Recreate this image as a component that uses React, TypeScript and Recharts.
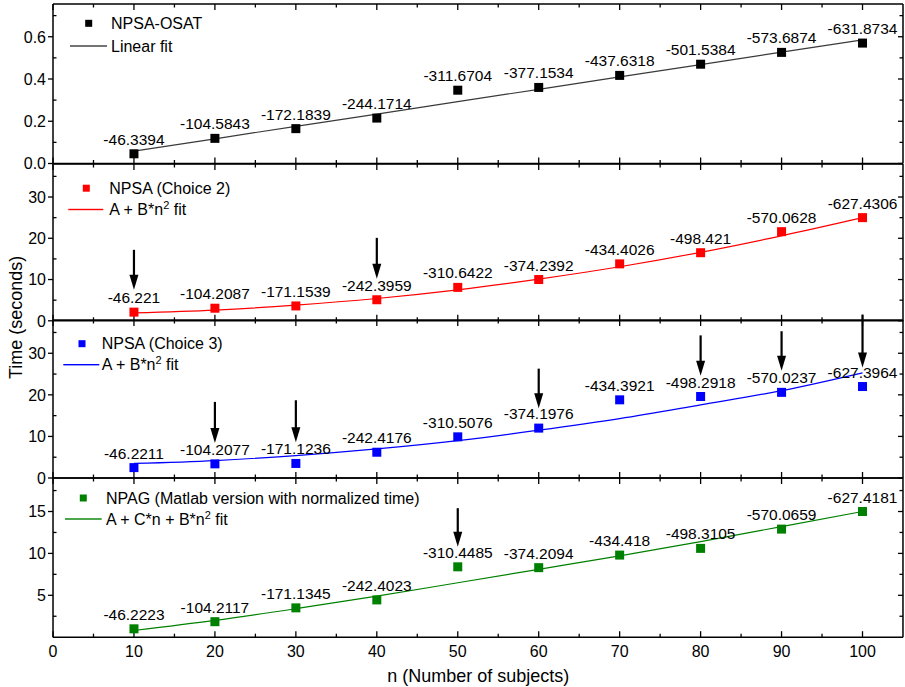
import React from 'react';
import { ComposedChart, Scatter, Line, XAxis, YAxis, ReferenceLine, Legend } from 'recharts';

const FONT = '"Liberation Sans", Arial, Helvetica, sans-serif';

const nValues = [10, 20, 30, 40, 50, 60, 70, 80, 90, 100];

// Panel 1: NPSA-OSAT
const osatTime = [0.046, 0.119, 0.165, 0.215, 0.347, 0.36, 0.417, 0.47, 0.526, 0.57];
const osatFit = [0.059, 0.117, 0.176, 0.234, 0.293, 0.351, 0.41, 0.468, 0.527, 0.585];
const osatLabels = ['-46.3394', '-104.5843', '-172.1839', '-244.1714', '-311.6704', '-377.1534', '-437.6318', '-501.5384', '-573.6874', '-631.8734'];

// Panel 2: NPSA (Choice 2)
const choice2Time = [2.1, 3.05, 3.6, 5.1, 8.1, 10.0, 13.8, 16.5, 21.6, 25.0];
const choice2Fit = [1.9, 2.6, 3.8, 5.4, 7.5, 10.1, 13.1, 16.6, 20.6, 25.0];
const choice2Labels = ['-46.221', '-104.2087', '-171.1539', '-242.3959', '-310.6422', '-374.2392', '-434.4026', '-498.421', '-570.0628', '-627.4306'];
const choice2ArrowN = [10, 40];
const choice2ArrowTail = [17.2, 20.1];
const choice2ArrowTip = [7.5, 10.2];

// Panel 3: NPSA (Choice 3)
const choice3Time = [2.5, 3.4, 3.5, 6.2, 9.9, 12.0, 18.8, 19.6, 20.6, 22.0];
const choice3Fit = [3.5, 4.2, 5.4, 7.0, 9.0, 11.5, 14.3, 17.6, 21.0, 25.3];
const choice3Labels = ['-46.2211', '-104.2077', '-171.1236', '-242.4176', '-310.5076', '-374.1976', '-434.3921', '-498.2918', '-570.0237', '-627.3964'];
const choice3ArrowN = [20, 30, 60, 80, 90, 100];
const choice3ArrowTail = [18.3, 18.7, 26.3, 34.3, 35.3, 39.3];
const choice3ArrowTip = [8.4, 8.6, 16.8, 24.6, 25.8, 26.6];

// Panel 4: NPAG
const npagTime = [1.0, 1.85, 3.5, 4.45, 8.4, 8.3, 9.8, 10.6, 12.9, 15.0];
const npagFit = [0.8, 2.0, 3.4, 4.9, 6.5, 8.1, 9.7, 11.4, 13.2, 15.0];
const npagLabels = ['-46.2223', '-104.2117', '-171.1345', '-242.4023', '-310.4485', '-374.2094', '-434.418', '-498.3105', '-570.0659', '-627.4181'];
const npagArrowN = [50];
const npagArrowTail = [15.4];
const npagArrowTip = [10.8];

const xTicks = [0, 5, 10, 15, 20, 25, 30, 35, 40, 45, 50, 55, 60, 65, 70, 75, 80, 85, 90, 95, 100];
const p1Ticks = [0, 0.1, 0.2, 0.3, 0.4, 0.5, 0.6, 0.7];
const p23Ticks = [0, 5, 10, 15, 20, 25, 30, 35];
const p4Ticks = [2.5, 5, 7.5, 10, 12.5, 15, 17.5];

const buildData = (times: number[], fits: number[], labels: string[]) =>
  nValues.map((n, i) => ({ n, t: times[i], fit: fits[i], label: labels[i] }));

const buildArrows = (ns: number[], tails: number[], tips: number[]) =>
  ns.map((n, i) => ({ n, tail: tails[i], tip: tips[i] }));

const xMajor = (v: number) => v % 10 === 0;
const p1Major = (v: number) => Math.round(v * 10) % 2 === 0;
const p23Major = (v: number) => v % 10 === 0;
const p4Major = (v: number) => v % 5 === 0;

const ok = (...vals: any[]) => vals.every((v) => typeof v === 'number' && !Number.isNaN(v));

// Tick label renderers (labels only)
const makeLeftLabel = (isMajor: (v: number) => boolean, fmt: (v: number) => string) => (props: any) => {
  const { x, y, payload } = props;
  if (!isMajor(payload.value)) return <g />;
  return (
    <text x={x - 7} y={y} dy="0.36em" textAnchor="end" fontSize={16} fontFamily={FONT} fill="#000">
      {fmt(payload.value)}
    </text>
  );
};

const makeBottomLabel = (show: boolean) => (props: any) => {
  const { x, y, payload } = props;
  if (!show || !xMajor(payload.value)) return <g />;
  return (
    <text x={x} y={y + 14.5} dy="0.36em" textAnchor="middle" fontSize={16} fontFamily={FONT} fill="#000">
      {String(payload.value)}
    </text>
  );
};

// Frame and tick marks drawn through reference lines (library scales)
const FrameShape = (props: any) => {
  const { x1, y1, x2, y2 } = props;
  if (!ok(x1, y1, x2, y2)) return <g />;
  return <line x1={x1} y1={y1} x2={x2} y2={y2} stroke="#000" strokeWidth={1.5} />;
};

const makeXTickShape = (major: boolean) => (props: any) => {
  const { x1, y1, y2 } = props;
  if (!ok(x1, y1, y2)) return <g />;
  const top = Math.min(y1, y2);
  const bottom = Math.max(y1, y2);
  const len = major ? 6 : 3.5;
  return (
    <g stroke="#000" strokeWidth={1.3}>
      <line x1={x1} x2={x1} y1={top} y2={top + len} />
      <line x1={x1} x2={x1} y1={bottom - len} y2={bottom} />
    </g>
  );
};

const makeYTickShape = (major: boolean) => (props: any) => {
  const { x1, x2, y1 } = props;
  if (!ok(x1, x2, y1)) return <g />;
  const left = Math.min(x1, x2);
  const right = Math.max(x1, x2);
  const len = major ? 5 : 3.5;
  return (
    <g stroke="#000" strokeWidth={1.3}>
      {major ? <line x1={left - 5} x2={left} y1={y1} y2={y1} /> : <line x1={left} x2={left + 3.5} y1={y1} y2={y1} />}
      <line x1={right - len} x2={right} y1={y1} y2={y1} />
    </g>
  );
};

const makeShape = (color: string) => (props: any) => {
  const { cx, cy, payload } = props;
  if (!ok(cx, cy)) return <g />;
  return (
    <g>
      <rect x={cx - 4.5} y={cy - 4.5} width={9} height={9} fill={color} />
      <text x={cx} y={cy - 9} textAnchor="middle" fontSize={15.5} fontFamily={FONT} fill="#000">
        {payload.label}
      </text>
    </g>
  );
};

const ArrowShape = (props: any) => {
  const { x1, y1, x2, y2 } = props;
  if (!ok(x1, y1, x2, y2)) return <g />;
  const x = x1;
  const top = Math.min(y1, y2);
  const bottom = Math.max(y1, y2);
  return (
    <g>
      <line x1={x} x2={x} y1={top} y2={bottom - 12} stroke="#000" strokeWidth={2.2} />
      <polygon points={`${x - 4.5},${bottom - 15} ${x + 4.5},${bottom - 15} ${x},${bottom}`} fill="#000" />
    </g>
  );
};

const FitText = ({ x, y, kind }: { x: number; y: number; kind: string }) => {
  if (kind === 'linear')
    return (
      <text x={x} y={y} dy="0.36em" fontSize={16} fontFamily={FONT} fill="#000">
        Linear fit
      </text>
    );
  const prefix = kind === 'quad3' ? 'A + C*n + B*n' : 'A + B*n';
  return (
    <text x={x} y={y} dy="0.36em" fontSize={16} fontFamily={FONT} fill="#000">
      {prefix}
      <tspan dy={-6} fontSize={11}>2</tspan>
      <tspan dy={6}>{' fit'}</tspan>
    </text>
  );
};

type LegendGeom = {
  markerX: number;
  row1Y: number;
  lineX1: number;
  lineX2: number;
  row2Y: number;
  textX: number;
};

const LegendBox = ({ g, color, lineColor, name, kind }: { g: LegendGeom; color: string; lineColor: string; name: string; kind: string }) => (
  <svg width={500} height={70} style={{ display: 'block', overflow: 'visible' }}>
    <rect x={g.markerX - 3.5} y={g.row1Y - 3.5} width={7} height={7} fill={color} />
    <text x={g.textX} y={g.row1Y} dy="0.36em" fontSize={16} fontFamily={FONT} fill="#000">
      {name}
    </text>
    <rect x={g.lineX1} y={g.row2Y - 0.7} width={g.lineX2 - g.lineX1} height={1.4} fill={lineColor} />
    <FitText x={g.textX} y={g.row2Y} kind={kind} />
  </svg>
);

type PanelProps = {
  top: number;
  height: number;
  margin: { top: number; right: number; bottom: number; left: number };
  data: any[];
  arrows: { n: number; tail: number; tip: number }[];
  domain: [number, number];
  yTicks: number[];
  yMajor: (v: number) => boolean;
  yFmt: (v: number) => string;
  color: string;
  lineColor: string;
  curve: 'linear' | 'monotone';
  legendGeom: LegendGeom;
  name: string;
  kind: string;
  bottomAxisHeight: number;
  showXLabels: boolean;
  xTitle?: boolean;
  yTitle?: { x: number; y: number };
};

const Panel = (p: PanelProps) => (
  <div style={{ position: 'absolute', left: 0, top: p.top }}>
    <ComposedChart width={905} height={p.height} margin={p.margin} data={p.data}>
      <XAxis
        type="number"
        dataKey="n"
        domain={[0, 105]}
        allowDataOverflow
        ticks={xTicks}
        interval={0}
        height={p.bottomAxisHeight}
        tickSize={0}
        tickMargin={0}
        axisLine={false}
        tickLine={false}
        tick={makeBottomLabel(p.showXLabels)}
        label={
          p.xTitle
            ? () => (
                <text x={478.2} y={p.height - p.bottomAxisHeight + 38} dy="0.36em" textAnchor="middle" fontSize={18} fontFamily={FONT} fill="#000">
                  n (Number of subjects)
                </text>
              )
            : undefined
        }
      />
      <YAxis
        type="number"
        domain={p.domain}
        allowDataOverflow
        ticks={p.yTicks}
        interval={0}
        width={53}
        tickSize={0}
        tickMargin={0}
        axisLine={false}
        tickLine={false}
        tick={makeLeftLabel(p.yMajor, p.yFmt)}
        label={
          p.yTitle
            ? () => (
                <text
                  x={p.yTitle!.x}
                  y={p.yTitle!.y}
                  dy="0.36em"
                  textAnchor="middle"
                  fontSize={18}
                  fontFamily={FONT}
                  fill="#000"
                  transform={`rotate(-90, ${p.yTitle!.x}, ${p.yTitle!.y})`}
                >
                  Time (seconds)
                </text>
              )
            : undefined
        }
      />
      {xTicks.map((v) => (
        <ReferenceLine key={`xt${v}`} x={v} ifOverflow="visible" shape={makeXTickShape(xMajor(v))} />
      ))}
      {p.yTicks.map((v) => (
        <ReferenceLine key={`yt${v}`} y={v} ifOverflow="visible" shape={makeYTickShape(p.yMajor(v))} />
      ))}
      <ReferenceLine x={0} ifOverflow="visible" shape={FrameShape} />
      <ReferenceLine x={105} ifOverflow="visible" shape={FrameShape} />
      <ReferenceLine y={p.domain[0]} ifOverflow="visible" shape={FrameShape} />
      <ReferenceLine y={p.domain[1]} ifOverflow="visible" shape={FrameShape} />
      <Line
        type={p.curve}
        dataKey="fit"
        stroke={p.lineColor}
        strokeWidth={1.2}
        dot={false}
        activeDot={false}
        isAnimationActive={false}
        legendType="none"
      />
      <Scatter dataKey="t" fill={p.color} shape={makeShape(p.color)} isAnimationActive={false} legendType="none" />
      {p.arrows.map((a, i) => (
        <ReferenceLine
          key={`ar${i}`}
          segment={[
            { x: a.n, y: a.tail },
            { x: a.n, y: a.tip },
          ]}
          ifOverflow="visible"
          shape={ArrowShape}
        />
      ))}
      <Legend
        layout="horizontal"
        verticalAlign="middle"
        align="center"
        wrapperStyle={{ left: 0, top: 0, width: 500, height: 70, pointerEvents: 'none' }}
        content={() => <LegendBox g={p.legendGeom} color={p.color} lineColor={p.lineColor} name={p.name} kind={p.kind} />}
      />
    </ComposedChart>
  </div>
);

const panel1Data = buildData(osatTime, osatFit, osatLabels);
const panel2Data = buildData(choice2Time, choice2Fit, choice2Labels);
const panel3Data = buildData(choice3Time, choice3Fit, choice3Labels);
const panel4Data = buildData(npagTime, npagFit, npagLabels);

export default function App() {
  return (
    <div style={{ position: 'absolute', left: 0, top: 0, width: 905, height: 687, background: '#fff', overflow: 'hidden' }}>
      <Panel
        top={0}
        height={173.5}
        margin={{ top: 4, right: 2, bottom: 10, left: 0 }}
        data={panel1Data}
        arrows={[]}
        domain={[0, 0.755]}
        yTicks={p1Ticks}
        yMajor={p1Major}
        yFmt={(v) => v.toFixed(1)}
        color="#000000"
        lineColor="#3a3a3a"
        curve="linear"
        legendGeom={{ markerX: 88.7, row1Y: 23.3, lineX1: 70, lineX2: 107, row2Y: 46, textX: 111 }}
        name="NPSA-OSAT"
        kind="linear"
        bottomAxisHeight={0}
        showXLabels={false}
      />
      <Panel
        top={153.5}
        height={226.8}
        margin={{ top: 10, right: 2, bottom: 60, left: 0 }}
        data={panel2Data}
        arrows={buildArrows(choice2ArrowN, choice2ArrowTail, choice2ArrowTip)}
        domain={[0, 38]}
        yTicks={p23Ticks}
        yMajor={p23Major}
        yFmt={(v) => String(v)}
        color="#ff0000"
        lineColor="#ff0000"
        curve="monotone"
        legendGeom={{ markerX: 86.3, row1Y: 34.2, lineX1: 68.3, lineX2: 103.3, row2Y: 55.5, textX: 109.3 }}
        name="NPSA (Choice 2)"
        kind="quad"
        bottomAxisHeight={0}
        showXLabels={false}
        yTitle={{ x: 16, y: 163.5 }}
      />
      <Panel
        top={310.3}
        height={178}
        margin={{ top: 10, right: 2, bottom: 10, left: 0 }}
        data={panel3Data}
        arrows={buildArrows(choice3ArrowN, choice3ArrowTail, choice3ArrowTip)}
        domain={[0, 38]}
        yTicks={p23Ticks}
        yMajor={p23Major}
        yFmt={(v) => String(v)}
        color="#0000ff"
        lineColor="#0000ff"
        curve="monotone"
        legendGeom={{ markerX: 82, row1Y: 33.7, lineX1: 63.3, lineX2: 99.3, row2Y: 54.7, textX: 101.7 }}
        name="NPSA (Choice 3)"
        kind="quad"
        bottomAxisHeight={0}
        showXLabels={false}
      />
      <Panel
        top={468.3}
        height={218.7}
        margin={{ top: 10, right: 2, bottom: 0, left: 0 }}
        data={panel4Data}
        arrows={buildArrows(npagArrowN, npagArrowTail, npagArrowTip)}
        domain={[0, 19]}
        yTicks={p4Ticks}
        yMajor={p4Major}
        yFmt={(v) => String(v)}
        color="#008000"
        lineColor="#008000"
        curve="monotone"
        legendGeom={{ markerX: 83.3, row1Y: 30, lineX1: 65, lineX2: 101.7, row2Y: 51, textX: 106 }}
        name="NPAG (Matlab version with normalized time)"
        kind="quad3"
        bottomAxisHeight={49.5}
        showXLabels={true}
        xTitle
      />
    </div>
  );
}
